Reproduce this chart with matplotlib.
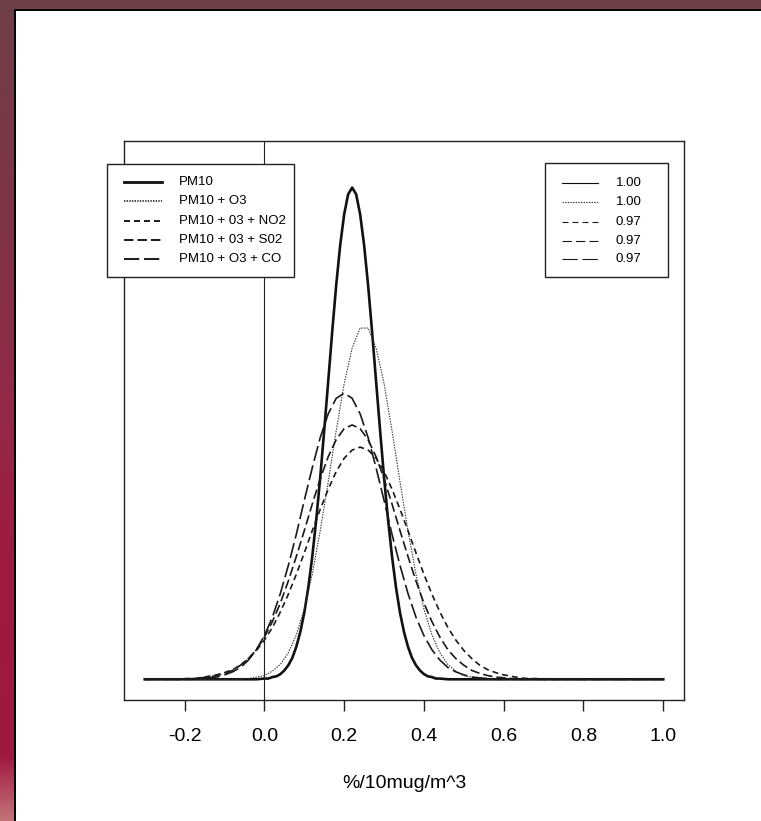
#!/usr/bin/env python3
# Densités des coefficients PM10 (modèles mono- et multi-polluants)

import numpy as np
import matplotlib
matplotlib.use('Agg')
import matplotlib.pyplot as plt
from matplotlib.lines import Line2D
from matplotlib.patches import Rectangle

plt.rcParams['font.family'] = ['Liberation Sans', 'DejaVu Sans']
plt.rcParams['lines.scale_dashes'] = False

# ── Données ───────────────────────────────────────────────────────────
# PM10 seul : pic étroit, lu plus finement
x_pm10 = [-0.30, -0.10, -0.02, 0.00, 0.01, 0.02, 0.03, 0.04, 0.05, 0.06,
          0.07, 0.08, 0.09, 0.10, 0.11, 0.12, 0.13, 0.14, 0.15, 0.16,
          0.17, 0.18, 0.19, 0.20, 0.21, 0.22, 0.23, 0.24, 0.25, 0.26,
          0.27, 0.28, 0.29, 0.30, 0.31, 0.32, 0.33, 0.34, 0.35, 0.36,
          0.37, 0.38, 0.39, 0.40, 0.41, 0.42, 0.43, 0.44, 0.46, 0.60,
          1.00]
pm10 = [0, 0, 0, 0.01, 0.01, 0.03, 0.04, 0.07, 0.12, 0.19,
        0.29, 0.44, 0.64, 0.90, 1.24, 1.66, 2.16, 2.73, 3.37, 4.03,
        4.70, 5.33, 5.87, 6.29, 6.56, 6.65, 6.56, 6.29, 5.87, 5.33,
        4.70, 4.03, 3.37, 2.73, 2.16, 1.66, 1.24, 0.90, 0.64, 0.44,
        0.29, 0.19, 0.12, 0.07, 0.04, 0.03, 0.01, 0.01, 0, 0,
        0]

# modèles multi-polluants
x = [-0.30, -0.26, -0.22, -0.20, -0.18, -0.16, -0.14, -0.12, -0.10, -0.08,
     -0.06, -0.04, -0.02, 0.00, 0.02, 0.04, 0.06, 0.08, 0.10, 0.12,
     0.14, 0.16, 0.18, 0.20, 0.22, 0.24, 0.26, 0.28, 0.30, 0.32,
     0.34, 0.36, 0.38, 0.40, 0.42, 0.44, 0.46, 0.48, 0.50, 0.52,
     0.54, 0.56, 0.58, 0.60, 0.62, 0.64, 0.66, 0.68, 0.70, 0.72,
     0.76, 0.80, 0.90, 1.00]

pm10_o3 = [0, 0, 0, 0, 0, 0, 0, 0, 0, 0,
           0, 0.01, 0.03, 0.05, 0.11, 0.20, 0.36, 0.60, 0.95, 1.42,
           2.01, 2.67, 3.36, 4.00, 4.48, 4.75, 4.75, 4.48, 4.00, 3.36,
           2.67, 2.01, 1.42, 0.95, 0.60, 0.36, 0.20, 0.11, 0.05, 0.03,
           0.01, 0, 0, 0, 0, 0, 0, 0, 0, 0,
           0, 0, 0, 0]

pm10_o3_no2 = [0, 0, 0, 0.01, 0.01, 0.02, 0.04, 0.06, 0.09, 0.13,
               0.19, 0.28, 0.39, 0.53, 0.70, 0.91, 1.15, 1.42, 1.71, 2.01,
               2.30, 2.57, 2.81, 2.99, 3.10, 3.14, 3.10, 2.99, 2.81, 2.57,
               2.30, 2.01, 1.71, 1.42, 1.15, 0.91, 0.70, 0.53, 0.39, 0.28,
               0.19, 0.13, 0.09, 0.06, 0.04, 0.02, 0.01, 0.01, 0, 0,
               0, 0, 0, 0]

pm10_o3_so2 = [0, 0, 0, 0, 0.01, 0.02, 0.03, 0.05, 0.08, 0.12,
               0.19, 0.28, 0.40, 0.57, 0.78, 1.03, 1.33, 1.66, 2.01, 2.37,
               2.71, 3.01, 3.24, 3.39, 3.44, 3.39, 3.24, 3.01, 2.71, 2.37,
               2.01, 1.66, 1.33, 1.03, 0.78, 0.57, 0.40, 0.28, 0.19, 0.12,
               0.08, 0.05, 0.03, 0.02, 0.01, 0, 0, 0, 0, 0,
               0, 0, 0, 0]

pm10_o3_co = [0, 0, 0, 0, 0, 0.01, 0.02, 0.03, 0.06, 0.10,
              0.16, 0.26, 0.40, 0.59, 0.84, 1.16, 1.54, 1.96, 2.42, 2.86,
              3.27, 3.59, 3.80, 3.87, 3.80, 3.59, 3.27, 2.86, 2.42, 1.96,
              1.54, 1.16, 0.84, 0.59, 0.40, 0.26, 0.16, 0.10, 0.06, 0.03,
              0.02, 0.01, 0, 0, 0, 0, 0, 0, 0, 0,
              0, 0, 0, 0]

noms = ['PM10', 'PM10 + O3', 'PM10 + 03 + NO2', 'PM10 + 03 + S02', 'PM10 + O3 + CO']
valeurs = ['1.00', '1.00', '0.97', '0.97', '0.97']
xticks = [-0.2, 0.0, 0.2, 0.4, 0.6, 0.8, 1.0]
xtick_labels = ['-0.2', '0.0', '0.2', '0.4', '0.6', '0.8', '1.0']

courbes = [(x_pm10, pm10), (x, pm10_o3), (x, pm10_o3_no2), (x, pm10_o3_so2), (x, pm10_o3_co)]

# ── Styles (largeur courbe, largeur légende, tirets) ──────────────────
styles = [
    dict(lw=1.9, lw_leg=2.0, ls='-', col='#111111'),
    dict(lw=0.8, lw_leg=1.3, ls=(0, (1.0, 0.9)), col='#333333'),
    dict(lw=1.2, lw_leg=1.4, ls=(0, (4.3, 2.9)), col='#1a1a1a'),
    dict(lw=1.2, lw_leg=1.4, ls=(0, (6.8, 2.9)), col='#1a1a1a'),
    dict(lw=1.2, lw_leg=1.4, ls=(0, (11.0, 3.4)), col='#1a1a1a'),
]

# ── Figure ────────────────────────────────────────────────────────────
W, H = 761, 821
fig = plt.figure(figsize=(W / 100, H / 100), dpi=100)


def fx(px):
    return px / W


def fy(py):
    return 1 - py / H


# cadre décoratif (bandeau bordeaux en haut et à gauche)
fond = np.ones((H, W, 3))
rows = np.arange(H)
kr = [0, 250, 400, 560, 755, 820]
cr = [(112, 64, 71), (130, 50, 70), (147, 42, 73), (158, 27, 64), (160, 24, 64), (195, 115, 122)]
grad = np.stack([np.interp(rows, kr, [c[i] for c in cr]) for i in range(3)], axis=1) / 255
fond[:, :14, :] = grad[:, None, :]
fond[:9, :, :] = np.array([112, 64, 71]) / 255
fond[9:, 14:16, :] = 0.03
fond[9:11, 14:, :] = 0.03
fig.figimage(fond, xo=0, yo=0, origin='upper', zorder=-10)

# ── Axes principaux ───────────────────────────────────────────────────
ax = fig.add_axes([fx(124), fy(700), fx(684) - fx(124), fy(141) - fy(700)])
ax.set_zorder(1)
ax.set_facecolor('white')

for (xs, ys), st in zip(courbes, styles):
    ax.plot(xs, ys, color=st['col'], lw=st['lw'], linestyle=st['ls'])

ax.axvline(0, color='#222222', lw=0.8)

ax.set_xlim(-0.352, 1.052)
ax.set_ylim(-0.28, 7.28)
ax.set_yticks([])
ax.set_xticks(xticks)
ax.set_xticklabels(xtick_labels)
ax.tick_params(axis='x', direction='out', length=8, width=1.0, labelsize=14, pad=12,
               color='#222222')
for sp in ax.spines.values():
    sp.set_linewidth(1.0)
    sp.set_color('#222222')
ax.set_xlabel('%/10mug/m^3', fontsize=14, labelpad=21.5)

# ── Légende gauche (modèles) ──────────────────────────────────────────
rangs = [182, 201, 221, 240, 259]
fig.add_artist(Rectangle((fx(107), fy(277)), fx(294) - fx(107), fy(164) - fy(277),
                         transform=fig.transFigure, facecolor='white',
                         edgecolor='#222222', lw=1.0, zorder=5))
for ry, nom, st in zip(rangs, noms, styles):
    fig.add_artist(Line2D([fx(124), fx(162)], [fy(ry), fy(ry)], transform=fig.transFigure,
                          color=st['col'], lw=st['lw_leg'], linestyle=st['ls'], zorder=6))
    fig.text(fx(179), fy(ry), nom, fontsize=9.5, va='center', ha='left', zorder=6)

# ── Légende droite (valeurs) ──────────────────────────────────────────
fig.add_artist(Rectangle((fx(545), fy(277)), fx(668) - fx(545), fy(163) - fy(277),
                         transform=fig.transFigure, facecolor='white',
                         edgecolor='#222222', lw=1.0, zorder=5))
rangs_d = [183, 202, 222, 241, 259]
for ry, val, st in zip(rangs_d, valeurs, styles):
    fig.add_artist(Line2D([fx(562), fx(598)], [fy(ry), fy(ry)], transform=fig.transFigure,
                          color=st['col'], lw=0.8, linestyle=st['ls'], zorder=6))
    fig.text(fx(616), fy(ry), val, fontsize=9.5, va='center', ha='left', zorder=6)

fig.savefig('out.png', dpi=100)
print("Sauvegardé : out.png")
